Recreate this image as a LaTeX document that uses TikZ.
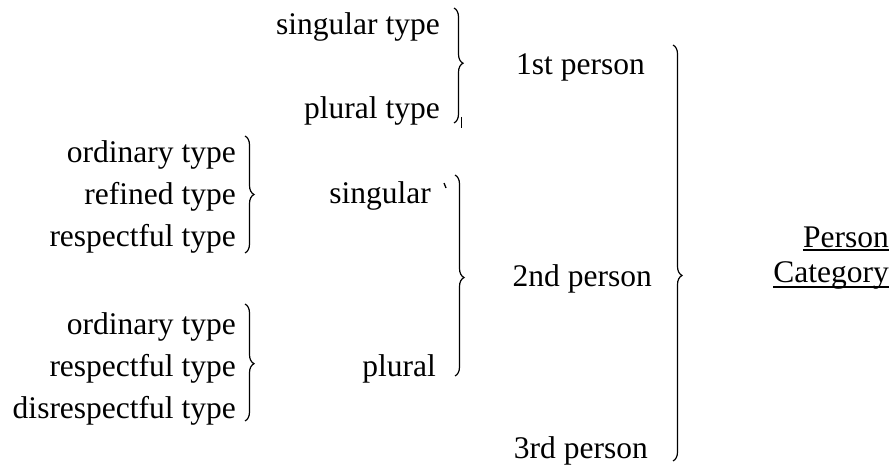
\documentclass[tikz,border=0pt]{standalone}
\usepackage{fontspec}
\setmainfont{LiberationSerif}[Extension=.ttf,UprightFont=*-Regular]
\usetikzlibrary{decorations.pathreplacing}
\begin{document}
\begin{tikzpicture}[x=1pt,y=-1pt,
  lbl/.style={inner sep=0pt,anchor=base east,font=\rmfamily\fontsize{31.5}{37}\selectfont},
  curly/.style={decorate,line width=1.2pt,
    decoration={brace,amplitude=9pt,aspect=#1}},
  curly/.default=0.5]
\useasboundingbox (0,0) rectangle (896,468);

% first person: singular / plural type
\node[lbl] (sgt) at (440,35) {singular type};
\node[lbl] (plt) at (440,118) {plural type};
\coordinate (b1t) at (454,8);
\coordinate (b1b) at (454,123);
\draw[curly=0.48] (b1t) -- (b1b);
\draw[line width=1pt] (461,117) -- (461,128);

% second person, singular
\node[lbl] (o1) at (236,162) {ordinary type};
\node[lbl] (rf) at (236,204) {refined type};
\node[lbl] (rs1) at (236,246) {respectful type};
\coordinate (b2t) at (245,136);
\coordinate (b2b) at (245,253);
\draw[curly=0.5] (b2t) -- (b2b);

% second person, plural
\node[lbl] (o2) at (236,334) {ordinary type};
\node[lbl] (rs2) at (236,376) {respectful type};
\node[lbl] (ds) at (236,418) {disrespectful type};
\coordinate (b3t) at (245,304);
\coordinate (b3b) at (245,421);
\draw[curly=0.51] (b3t) -- (b3b);

% singular / plural
\node[lbl] (sg) at (431,203) {singular};
\node[lbl] (pl) at (436,376) {plural};
\draw[line width=1.3pt] (444,183) -- (446,188);
\coordinate (b4t) at (455,175);
\coordinate (b4b) at (455,376);
\draw[curly=0.51] (b4t) -- (b4b);

% persons
\node[lbl] (p1) at (645,75) {1st person};
\node[lbl] (p2) at (652,286) {2nd person};
\node[lbl] (p3) at (648,458) {3rd person};
\coordinate (b5t) at (673,45);
\coordinate (b5b) at (673,461);
\draw[curly=0.554] (b5t) -- (b5b);

% category heading
\node[lbl] (hp) at (889,247) {Person};
\node[lbl] (hc) at (889,282) {Category};
\draw[line width=1.3pt] (hp.base west) ++(0,3) -- ++(86,0);
\draw[line width=1.3pt] (hc.base west) ++(0,5) -- ++(116,0);
\end{tikzpicture}
\end{document}
